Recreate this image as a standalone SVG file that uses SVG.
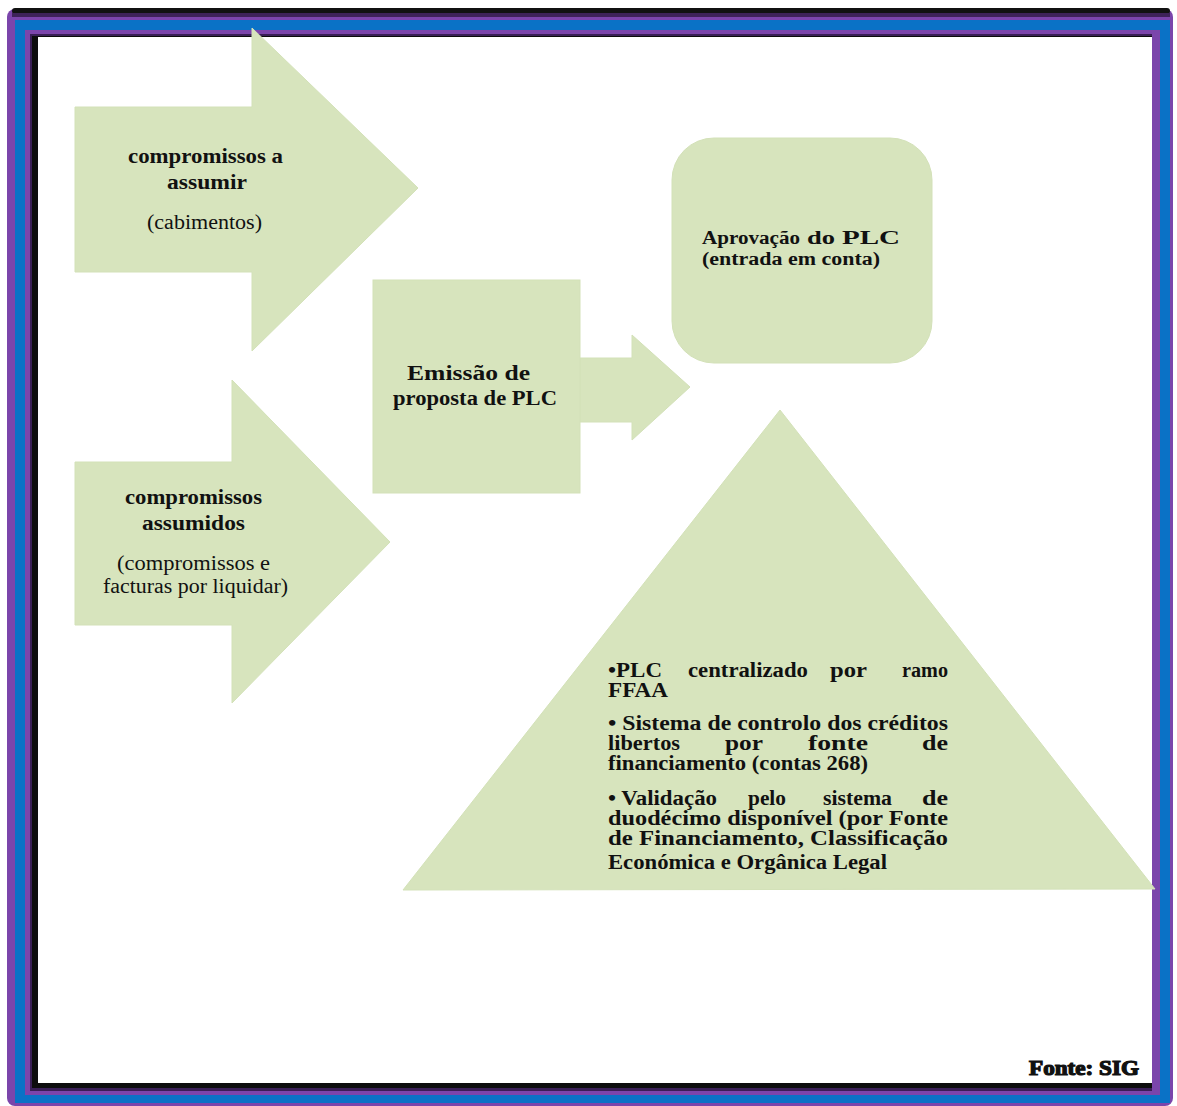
<svg xmlns="http://www.w3.org/2000/svg" width="1177" height="1106" viewBox="0 0 1177 1106">
<style>
.shape{fill:#d7e4bd;stroke:#d3e1b8;stroke-width:1}
.t{font-family:"Liberation Serif","Times New Roman",serif;fill:#111;font-size:20px;font-weight:bold}
.n{font-weight:normal}
.s{font-size:18px}
</style>
<rect x="0" y="0" width="1177" height="1106" fill="#ffffff"/>
<g id="frame">
<rect x="7" y="9" width="1166" height="1097" rx="8" fill="#7b45ab"/>
<rect x="12" y="8" width="1158" height="6" rx="3" fill="#111"/>
<rect x="12" y="13" width="1158" height="4" fill="#3e2259"/>
<rect x="15" y="20" width="1155" height="1083" fill="#0a72c6"/>
<rect x="25" y="30" width="1135" height="1065" fill="#7b45ab"/>
<rect x="30" y="34" width="1122" height="1057" fill="#3a1f57"/>
<rect x="32" y="36" width="1120" height="1052" fill="#0d0d0d"/>
<rect x="38" y="37" width="1114" height="1046" fill="#ffffff"/>
</g>
<g id="connectors">
<polygon class="shape" points="580,358 632,358 632,335 690,387 632,440 632,422 580,422"/>
</g>
<g id="node-compromissos-a-assumir">
<polygon class="shape" points="75,107 252,107 252,28 418,188 252,351 252,272 75,272"/>
<text class="t" x="128" y="163" textLength="155" lengthAdjust="spacingAndGlyphs">compromissos a</text>
<text class="t" x="167" y="189" textLength="80" lengthAdjust="spacingAndGlyphs">assumir</text>
<text class="t n" x="147" y="229" textLength="115" lengthAdjust="spacingAndGlyphs">(cabimentos)</text>
</g>
<g id="node-compromissos-assumidos">
<polygon class="shape" points="75,462 232,462 232,380 390,542 232,703 232,625 75,625"/>
<text class="t" x="125" y="504" textLength="137" lengthAdjust="spacingAndGlyphs">compromissos</text>
<text class="t" x="142" y="530" textLength="103" lengthAdjust="spacingAndGlyphs">assumidos</text>
<text class="t n" x="117" y="570" textLength="153" lengthAdjust="spacingAndGlyphs">(compromissos e</text>
<text class="t n" x="103" y="593" textLength="185" lengthAdjust="spacingAndGlyphs">facturas por liquidar)</text>
</g>
<g id="node-emissao">
<rect class="shape" x="373" y="280" width="207" height="213"/>
<text class="t" x="407" y="380" textLength="123" lengthAdjust="spacingAndGlyphs">Emissão de</text>
<text class="t" x="393" y="405" textLength="164" lengthAdjust="spacingAndGlyphs">proposta de PLC</text>
</g>
<g id="node-aprovacao">
<rect class="shape" x="672" y="138" width="260" height="225" rx="42"/>
<text class="t s" y="244"><tspan x="702" textLength="98" lengthAdjust="spacingAndGlyphs">Aprovação</tspan><tspan x="807" textLength="28" lengthAdjust="spacingAndGlyphs">do</tspan><tspan x="842" textLength="58" lengthAdjust="spacingAndGlyphs">PLC</tspan></text>
<text class="t s" x="702" y="265" textLength="178" lengthAdjust="spacingAndGlyphs">(entrada em conta)</text>
</g>
<g id="node-plc">
<polygon class="shape" points="780,410 1155,889 403,890"/>
<text class="t" y="677"><tspan x="608" textLength="54" lengthAdjust="spacingAndGlyphs">•PLC</tspan><tspan x="688" textLength="120" lengthAdjust="spacingAndGlyphs">centralizado</tspan><tspan x="830" textLength="37" lengthAdjust="spacingAndGlyphs">por</tspan><tspan x="902" textLength="46" lengthAdjust="spacingAndGlyphs">ramo</tspan></text>
<text class="t" x="608" y="697" textLength="60" lengthAdjust="spacingAndGlyphs">FFAA</text>
<text class="t" x="608" y="730" textLength="340" lengthAdjust="spacingAndGlyphs">• Sistema de controlo dos créditos</text>
<text class="t" y="750"><tspan x="608" textLength="72" lengthAdjust="spacingAndGlyphs">libertos</tspan><tspan x="725" textLength="38" lengthAdjust="spacingAndGlyphs">por</tspan><tspan x="808" textLength="60" lengthAdjust="spacingAndGlyphs">fonte</tspan><tspan x="922" textLength="26" lengthAdjust="spacingAndGlyphs">de</tspan></text>
<text class="t" x="608" y="770" textLength="260" lengthAdjust="spacingAndGlyphs">financiamento (contas 268)</text>
<text class="t" y="805"><tspan x="608" textLength="109" lengthAdjust="spacingAndGlyphs">• Validação</tspan><tspan x="748" textLength="38" lengthAdjust="spacingAndGlyphs">pelo</tspan><tspan x="823" textLength="69" lengthAdjust="spacingAndGlyphs">sistema</tspan><tspan x="922" textLength="26" lengthAdjust="spacingAndGlyphs">de</tspan></text>
<text class="t" x="608" y="825" textLength="340" lengthAdjust="spacingAndGlyphs">duodécimo disponível (por Fonte</text>
<text class="t" x="608" y="845" textLength="340" lengthAdjust="spacingAndGlyphs">de Financiamento, Classificação</text>
<text class="t" x="608" y="869" textLength="279" lengthAdjust="spacingAndGlyphs">Económica e Orgânica Legal</text>
</g>
<g id="source">
<text class="t" x="1029" y="1075" textLength="110" lengthAdjust="spacingAndGlyphs" stroke="#111" stroke-width="1.2">Fonte: SIG</text>
</g>
</svg>
